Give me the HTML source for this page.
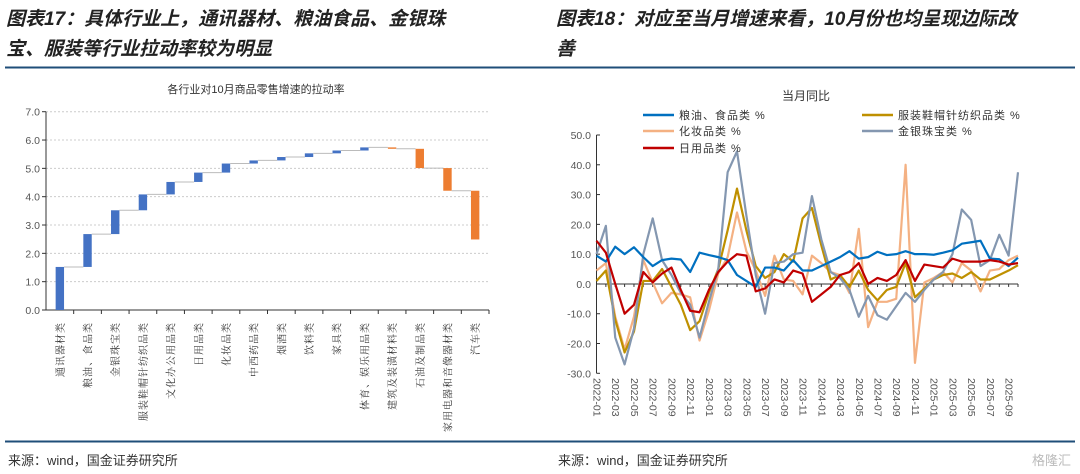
<!DOCTYPE html>
<html><head><meta charset="utf-8"><style>
body{margin:0;background:#fff;}
svg{display:block;font-family:"Liberation Sans","Noto Sans CJK SC",sans-serif;}
.t{font-family:"Liberation Sans","Noto Sans CJK SC",sans-serif;font-style:italic;font-weight:bold;font-size:19px;fill:#222;}
.ax{font-size:10.5px;fill:#555;}
.cat{font-family:"Noto Serif CJK SC","Noto Sans CJK SC",serif;font-size:10px;fill:#333;letter-spacing:1px;}
</style></head><body>
<svg id="s" width="1080" height="474" viewBox="0 0 1080 474">
<text class="t" x="6" y="25">图表17：具体行业上，通讯器材、粮油食品、金银珠</text>
<text class="t" x="6" y="55">宝、服装等行业拉动率较为明显</text>
<text class="t" x="556" y="25">图表18：对应至当月增速来看，10月份也均呈现边际改</text>
<text class="t" x="556" y="55">善</text>
<line x1="5" y1="67.5" x2="1075" y2="67.5" stroke="#1f4e79" stroke-width="2"/>
<line x1="5" y1="441.5" x2="1075" y2="441.5" stroke="#1f4e79" stroke-width="2"/>
<text x="8" y="465" font-size="13" fill="#333">来源：wind，国金证券研究所</text>
<text x="558" y="465" font-size="13" fill="#333">来源：wind，国金证券研究所</text>
<text x="1032" y="465" font-size="13" fill="#bbb">格隆汇</text>
<text x="256" y="93" text-anchor="middle" font-size="11" fill="#333">各行业对10月商品零售增速的拉动率</text>
<text x="806" y="100" text-anchor="middle" font-size="12" fill="#333">当月同比</text>
<g id="left"></g><g id="right"></g>
</svg>
<script>
const NS="http://www.w3.org/2000/svg";
function mk(p,tag,at){const e=document.createElementNS(NS,tag);for(const k in at)e.setAttribute(k,at[k]);p.appendChild(e);return e;}
// ---- Waterfall data ----
const wfCategories=["通讯器材类","粮油、食品类","金银珠宝类","服装鞋帽针纺织品类","文化办公用品类","日用品类","化妆品类","中西药品类","烟酒类","饮料类","家具类","体育、娱乐用品类","建筑及装潢材料类","石油及制品类","家用电器和音像器材类","汽车类"];
const wfDeltas=[1.52,1.16,0.84,0.56,0.44,0.33,0.32,0.11,0.12,0.13,0.10,0.11,-0.05,-0.68,-0.80,-1.72];
const wfTicks=[0,1,2,3,4,5,6,7];
const L=document.getElementById('left');
const lx0=46,lx1=489,ly0=310,ly7=111.7;
const ly=v=>ly0-(v/7)*(ly0-ly7);
const bw=(lx1-lx0)/wfCategories.length;
wfTicks.forEach(t=>{
 if(t>0){const g=mk(L,'line',{x1:lx0,x2:lx1,y1:ly(t),y2:ly(t),stroke:'#ccc','stroke-dasharray':'2,2'});
 
 }
 const tx=mk(L,'text',{x:40,y:ly(t)+4,'text-anchor':'end',class:'ax'});tx.textContent=t.toFixed(1);
 
 
 mk(L,'line',{x1:lx0-4,x2:lx0,y1:ly(t),y2:ly(t),stroke:'#333'});
});
mk(L,'line',{x1:lx0,x2:lx0,y1:ly7,y2:ly0,stroke:'#333'});
mk(L,'line',{x1:lx0,x2:lx1,y1:ly0,y2:ly0,stroke:'#333'});
let cum=0;
const barW=8.4;
wfCategories.forEach((c,i)=>{
 const d=wfDeltas[i],a=cum,b=cum+d;cum=b;
 const x=lx0+i*bw, cx=x+bw/2;
 const r=mk(L,'rect',{x:cx-barW/2,width:barW,y:ly(Math.max(a,b)),height:Math.max(1,Math.abs(ly(a)-ly(b))),fill:d>=0?'#4472c4':'#ed7d31'});
 
 
 if(i<wfCategories.length-1){mk(L,'line',{x1:cx+barW/2,x2:cx+bw-barW/2,y1:ly(b),y2:ly(b),stroke:'#bbb'});}
 mk(L,'line',{x1:x+bw,x2:x+bw,y1:ly0,y2:ly0+4,stroke:'#333'});
 const t=mk(L,'text',{class:'cat','text-anchor':'end',transform:`translate(${cx+4},322) rotate(-90)`});t.textContent=c;
 
 
});
// ---- Line chart data ----
const months=[];for(let y=2022;y<=2025;y++)for(let m=1;m<=12;m++){if(y===2025&&m>10)break;months.push(y+'-'+String(m).padStart(2,'0'));}
const sFood=[9.5,7.5,12.5,10,12.3,9,6,8,8.5,8.2,4,10.5,9.7,9,8,3,1,-1,5.5,5.5,4.5,8,4.5,4.5,6,7.5,9,11,8.5,9,10.8,9.7,10,11,10,10,9.8,10.5,11.3,13.5,14,14.5,8.5,8.3,6,8.8];
const sCloth=[1,4.5,-12,-23,-16,1,1,5,-1,-7,-15.5,-12.5,-3,5,18,32,18,6,2,4,10,7.5,22,25.5,13,1.5,3,-1,4.5,-2,-5.5,-2,-1,7,-4.5,-1.5,1.5,3,3.5,2,4,1.5,1.5,3,4.5,6.3];
const sCosm=[4.5,7,-11,-22,-11,8,0.5,-6.5,-3,-3.5,-4.5,-19,-9,3.5,9,24,11,4.5,-4,9.5,1.5,1,-3.5,9.5,7,4,3,-3,18.5,-14.5,-6,-6,-5,40,-26.5,0.5,2,4,0.5,7,4.5,-2.5,4.5,5,8,9.5];
const sJewel=[10,19.5,-18,-27,-15,10,22,8,3,-3,-7,-18,-6,5,37.5,44.5,23,3,-10,7,7.5,10,10.5,29.5,15,4,2,-2,-11,-4,-10.5,-12,-7.5,-3,-6,-2,1.5,4,10,25,21.5,6,8,16.5,9.5,37.5];
const sDaily=[14.5,10.5,0,-10,-7,4,0.5,3.5,5.5,-2,-9,-9.5,-2,4,7.5,10,9.5,-2.5,-1.5,1.5,0.5,4.5,3.5,-6,-3.5,-1,3,4,7,0,2,1,3,8,1,6.5,6,5.5,8.5,7.5,7.5,7.5,8,7.5,6.5,7];
const yTicks=[-30,-20,-10,0,10,20,30,40,50];
const R=document.getElementById('right');
const rx0=596.5,rx1=1018,ry50=135,ryM30=373.3;
const rx=i=>rx0+i*(rx1-rx0)/(months.length-1);
const ry=v=>ry50+(50-v)/80*(ryM30-ry50);
yTicks.forEach(t=>{
 const tx=mk(R,'text',{x:591,y:ry(t)+4,'text-anchor':'end',class:'ax'});tx.textContent=t.toFixed(1);
 
 
 mk(R,'line',{x1:596.5,x2:600,y1:ry(t),y2:ry(t),stroke:'#333'});
});
mk(R,'line',{x1:596.5,x2:596.5,y1:ry(50),y2:ry(-30),stroke:'#333'});
mk(R,'line',{x1:596.5,x2:rx1,y1:ry(0),y2:ry(0),stroke:'#333'});
months.forEach((m,i)=>{
 mk(R,'line',{x1:rx(i),x2:rx(i),y1:ry(0),y2:ry(0)+3,stroke:'#333'});
 if(i%2===0){const t=mk(R,'text',{class:'ax','font-size':'10',transform:`translate(${rx(i)-3},378) rotate(90)`});t.textContent=m;
 
 }
});
const series=[[sCosm,'#f4b183','化妆品类 %',643,131],[sCloth,'#bf9000','服装鞋帽针纺织品类 %',862,115],[sJewel,'#8497b0','金银珠宝类 %',862,131],[sFood,'#0070c0','粮油、食品类 %',643,115],[sDaily,'#c00000','日用品类 %',643,148]];
series.forEach(([d,col,name,lx,lyy])=>{
 const p=mk(R,'polyline',{points:d.map((v,i)=>rx(i)+','+ry(v)).join(' '),fill:'none',stroke:col,'stroke-width':2.2,'stroke-linejoin':'round'});
 
 
 const ll=mk(R,'line',{x1:lx,x2:lx+31,y1:lyy,y2:lyy,stroke:col,'stroke-width':2.5});
 
 
 const lt=mk(R,'text',{x:lx+36,y:lyy+4,'font-size':'11',fill:'#333','letter-spacing':'1'});lt.textContent=name;
 
 
});
</script>
</body></html>
